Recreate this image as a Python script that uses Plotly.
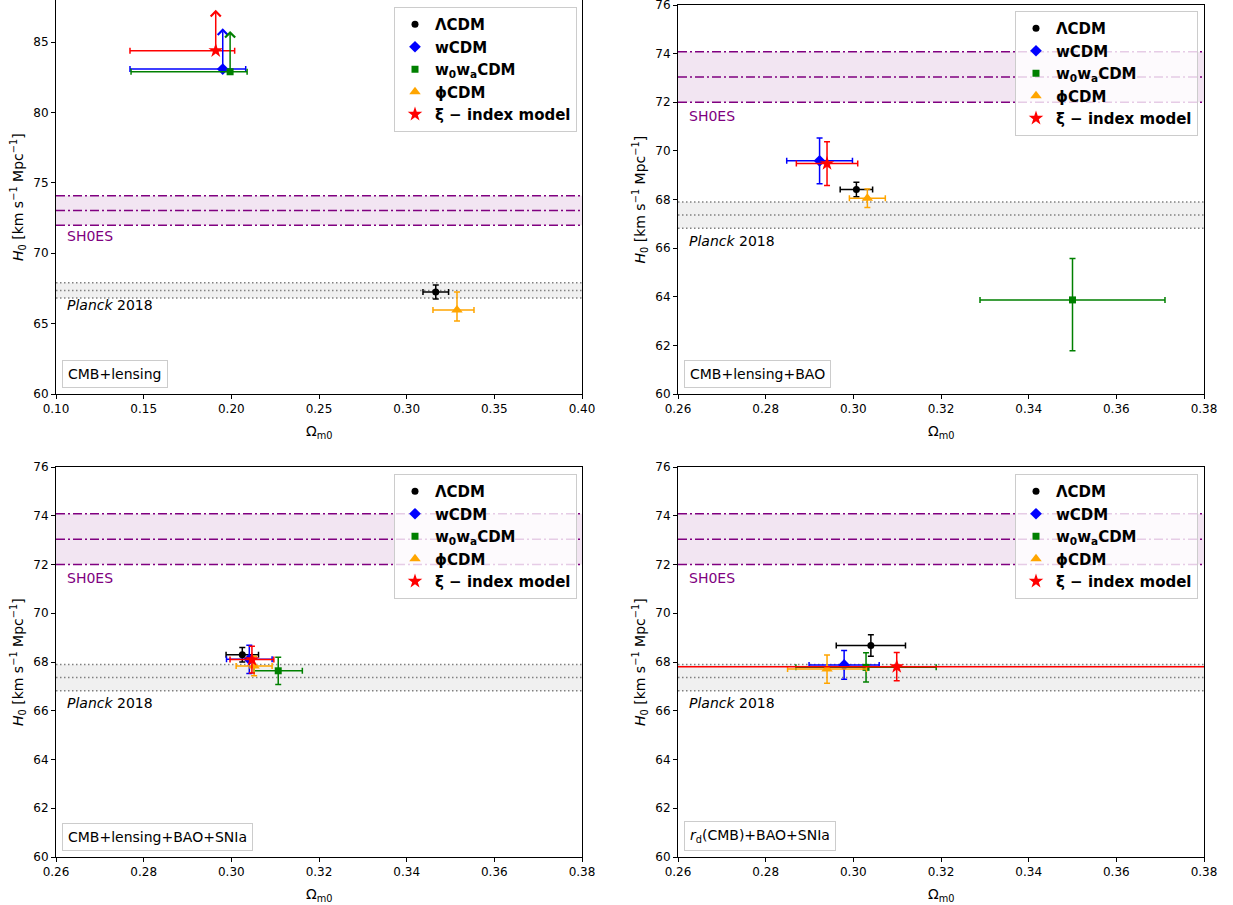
import plotly.graph_objects as go

# ---------------- data ----------------
models = ["<b>ΛCDM</b>", "<b>wCDM</b>", "<b>w<sub>0</sub>w<sub>a</sub>CDM</b>", "<b>ϕCDM</b>", "<b>ξ − index model</b>"]
colors = ["black", "blue", "green", "orange", "red"]
symbols = ["circle", "diamond", "square", "triangle-up", "star"]

# Panel 1: CMB+lensing
p1_om = [0.3166, 0.1951, 0.1993, 0.3287, 0.1911]
p1_om_lo = [0.0073, 0.0529, 0.0565, 0.0137, 0.0489]
p1_om_hi = [0.0073, 0.0131, 0.0097, 0.0097, 0.0108]
p1_h0 = [67.25, 83.09, 82.90, 65.97, 84.40]
p1_h0_lo = [0.50, 0.0, 0.0, 0.78, 0.0]
p1_h0_hi = [0.50, 2.90, 2.90, 1.28, 2.90]
p1_lolim = [False, True, True, False, True]

# Panel 2: CMB+lensing+BAO
p2_om = [0.3007, 0.2923, 0.3500, 0.3032, 0.2940]
p2_om_lo = [0.0037, 0.0075, 0.0211, 0.0041, 0.0070]
p2_om_hi = [0.0037, 0.0075, 0.0211, 0.0041, 0.0070]
p2_h0 = [68.41, 69.59, 63.87, 68.05, 69.48]
p2_h0_lo = [0.30, 0.94, 2.09, 0.38, 0.90]
p2_h0_hi = [0.30, 0.94, 1.70, 0.38, 0.90]

# Panel 3: CMB+lensing+BAO+SNIa
p3_om = [0.3025, 0.3041, 0.3107, 0.3052, 0.3047]
p3_om_lo = [0.0037, 0.0052, 0.0055, 0.0041, 0.0050]
p3_om_hi = [0.0037, 0.0052, 0.0055, 0.0041, 0.0050]
p3_h0 = [68.30, 68.11, 67.64, 67.84, 68.10]
p3_h0_lo = [0.30, 0.58, 0.56, 0.40, 0.55]
p3_h0_hi = [0.30, 0.58, 0.56, 0.40, 0.55]

# Panel 4: r_d(CMB)+BAO+SNIa
p4_om = [0.3040, 0.2979, 0.3029, 0.2940, 0.3099]
p4_om_lo = [0.0079, 0.0080, 0.0160, 0.0090, 0.2000]
p4_om_hi = [0.0079, 0.0080, 0.0160, 0.0090, 0.2000]
p4_h0 = [68.68, 67.88, 67.78, 67.71, 67.81]
p4_h0_lo = [0.44, 0.59, 0.60, 0.58, 0.58]
p4_h0_hi = [0.44, 0.59, 0.60, 0.58, 0.58]

shoes_h0, shoes_err = 73.04, 1.04
planck_h0, planck_err = 67.36, 0.54

panel_labels = ["CMB+lensing", "CMB+lensing+BAO", "CMB+lensing+BAO+SNIa", "<i>r</i><sub>d</sub>(CMB)+BAO+SNIa"]
x_ranges = [[0.10, 0.40], [0.26, 0.38], [0.26, 0.38], [0.26, 0.38]]
y_ranges = [[60, 88.0], [60, 76.0005], [60, 76.0005], [60, 76.0005]]
x_dticks = [0.05, 0.02, 0.02, 0.02]
y_dticks = [5, 2, 2, 2]
shoes_text_y = [71.2, 71.45, 71.45, 71.45]
planck_text_y = [66.3, 66.3, 66.3, 66.3]

# ---------------- layout ----------------
W, H = 1233, 905
xdom = [[56 / W, 582 / W], [678 / W, 1204 / W], [56 / W, 582 / W], [678 / W, 1204 / W]]
ydom = [[1 - 394 / H, 1.0], [1 - 394 / H, 1 - 5 / H], [1 - 857 / H, 1 - 467 / H], [1 - 857 / H, 1 - 467 / H]]
legend_pos = [(577 / W, 1 - 7 / H), (1198 / W, 1 - 11 / H), (577 / W, 1 - 474 / H), (1198 / W, 1 - 474 / H)]

FONT = "DejaVu Sans"
fig = go.Figure()
panels = [
    (p1_om, p1_om_lo, p1_om_hi, p1_h0, p1_h0_lo, p1_h0_hi, p1_lolim),
    (p2_om, p2_om_lo, p2_om_hi, p2_h0, p2_h0_lo, p2_h0_hi, [False] * 5),
    (p3_om, p3_om_lo, p3_om_hi, p3_h0, p3_h0_lo, p3_h0_hi, [False] * 5),
    (p4_om, p4_om_lo, p4_om_hi, p4_h0, p4_h0_lo, p4_h0_hi, [False] * 5),
]
marker_sizes = {"circle": 7, "diamond": 9, "square": 7, "triangle-up": 10, "star": 11}

annotations = []
shapes = []
for k, (om, omlo, omhi, h0, h0lo, h0hi, lolim) in enumerate(panels):
    sfx = "" if k == 0 else str(k + 1)
    xa, ya = "x" + sfx, "y" + sfx
    leg = "legend" + sfx
    # bands
    shapes.append(dict(type="rect", xref=xa + " domain", yref=ya, x0=0, x1=1,
                       y0=shoes_h0 - shoes_err, y1=shoes_h0 + shoes_err,
                       fillcolor="rgba(128,0,128,0.1)", line=dict(width=0), layer="below"))
    shapes.append(dict(type="rect", xref=xa + " domain", yref=ya, x0=0, x1=1,
                       y0=planck_h0 - planck_err, y1=planck_h0 + planck_err,
                       fillcolor="rgba(128,128,128,0.12)", line=dict(width=0), layer="below"))
    for v in (shoes_h0 - shoes_err, shoes_h0, shoes_h0 + shoes_err):
        shapes.append(dict(type="line", xref=xa + " domain", yref=ya, x0=0, x1=1, y0=v, y1=v,
                           line=dict(color="purple", width=1.5, dash="9px,3px,2px,3px"), layer="below"))
    for v in (planck_h0 - planck_err, planck_h0, planck_h0 + planck_err):
        shapes.append(dict(type="line", xref=xa + " domain", yref=ya, x0=0, x1=1, y0=v, y1=v,
                           line=dict(color="gray", width=1.5, dash="1.5px,2.5px"), layer="below"))
    annotations.append(dict(text="SH0ES", xref=xa + " domain", yref=ya, x=0.018, y=shoes_text_y[k],
                            xanchor="left", yanchor="middle", showarrow=False,
                            font=dict(family=FONT, size=14, color="purple")))
    annotations.append(dict(text="<i>Planck</i> 2018", xref=xa + " domain", yref=ya, x=0.018, y=planck_text_y[k],
                            xanchor="left", yanchor="middle", showarrow=False,
                            font=dict(family=FONT, size=14, color="black")))
    annotations.append(dict(text=panel_labels[k], xref=xa + " domain", yref=ya + " domain", x=0.012, y=0.015,
                            xanchor="left", yanchor="bottom", showarrow=False,
                            bordercolor="#cccccc", borderwidth=1, borderpad=5, bgcolor="white",
                            font=dict(family=FONT, size=14, color="black")))
    # axis titles
    annotations.append(dict(text="Ω<sub>m0</sub>", xref=xa + " domain", yref=ya + " domain", x=0.5, y=0,
                            yshift=-27, xanchor="center", yanchor="top", showarrow=False,
                            font=dict(family=FONT, size=14, color="black")))
    annotations.append(dict(text="<i>H</i><sub>0</sub> [km s<sup>−1</sup> Mpc<sup>−1</sup>]",
                            xref=xa + " domain", yref=ya + " domain", x=0, y=0.5, xshift=-38,
                            xanchor="center", yanchor="middle", textangle=-90, showarrow=False,
                            font=dict(family=FONT, size=14, color="black")))
    # data
    for i in range(5):
        ey = dict(type="data", symmetric=False, array=[h0hi[i]], arrayminus=[h0lo[i]],
                  color=colors[i], thickness=1.5, width=3)
        if lolim[i]:
            ey = dict(visible=False)
            annotations.append(dict(x=om[i], y=h0[i] + h0hi[i], ax=om[i], ay=h0[i],
                                    xref=xa, yref=ya, axref=xa, ayref=ya, showarrow=True,
                                    arrowhead=4, arrowsize=1.3, arrowwidth=1.5, arrowcolor=colors[i],
                                    text=""))
        fig.add_trace(go.Scatter(
            x=[om[i]], y=[h0[i]], mode="markers", name=models[i],
            marker=dict(color=colors[i], symbol=symbols[i], size=marker_sizes[symbols[i]],
                        line=dict(width=0)),
            error_x=dict(type="data", symmetric=False, array=[omhi[i]], arrayminus=[omlo[i]],
                         color=colors[i], thickness=1.5, width=3),
            error_y=ey, xaxis=xa, yaxis=ya, legend=leg, showlegend=True,
        ))
    axis_common = dict(showline=True, linecolor="black", linewidth=1, mirror=True, ticks="outside",
                       ticklen=4, tickcolor="black", showgrid=False, zeroline=False, automargin=False,
                       ticklabeloverflow="allow",
                       tickfont=dict(family=FONT, size=12, color="black"))
    fig.update_layout(**{
        "xaxis" + sfx: dict(domain=xdom[k], range=x_ranges[k], dtick=x_dticks[k], tick0=0,
                            tickformat=".2f", anchor=ya, **axis_common),
        "yaxis" + sfx: dict(domain=ydom[k], range=y_ranges[k], dtick=y_dticks[k], tick0=0,
                            anchor=xa, **axis_common),
        leg: dict(x=legend_pos[k][0], y=legend_pos[k][1], xanchor="right", yanchor="top",
                  bordercolor="#cccccc", borderwidth=1, bgcolor="rgba(255,255,255,0.8)",
                  font=dict(family=FONT, size=15, color="black"), tracegroupgap=0,
                  itemsizing="trace"),
    })

fig.update_layout(width=W, height=H, margin=dict(l=0, r=0, t=0, b=0, autoexpand=False),
                  plot_bgcolor="white", paper_bgcolor="white", annotations=annotations, shapes=shapes,
                  font=dict(family=FONT), template="none")
fig.write_html("out.html")
